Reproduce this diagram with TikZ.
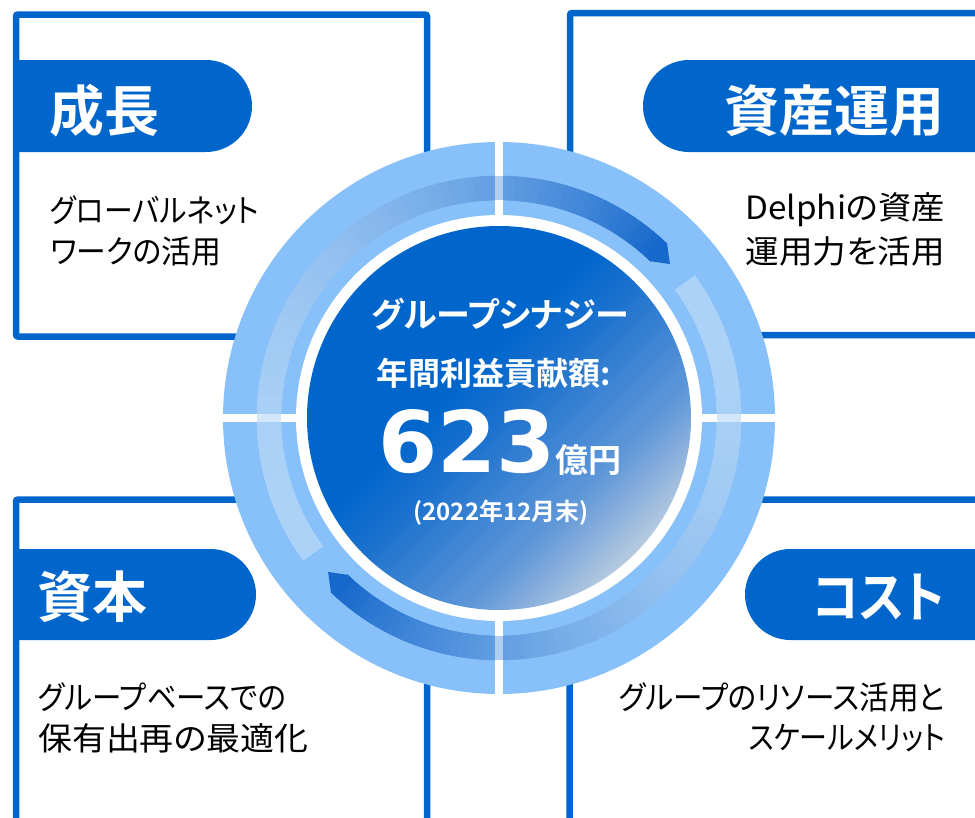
\documentclass[tikz,border=0pt]{standalone}
\usepackage{fontspec}
\usepackage{graphicx}
\newfontfamily\jp{Noto Sans CJK JP}[RawFeature={+palt},BoldFont={Noto Sans CJK JP Bold}]
\newfontfamily\dv{DejaVu Sans}[BoldFont={DejaVu Sans Bold}]
\newcommand{\hsq}[2]{\scalebox{#1}[1]{#2}}
\definecolor{mainblue}{RGB}{0,102,204}
\definecolor{ringblue}{RGB}{136,192,250}
\definecolor{bandlight}{RGB}{172,210,247}
\definecolor{banddark}{RGB}{22,104,203}
\definecolor{dkA}{RGB}{182,202,224}
\definecolor{dkB}{RGB}{97,152,216}
\definecolor{dkC}{RGB}{27,113,206}
\pgfdeclareverticalshading{diskshade}{100bp}{color(0bp)=(dkA); color(25bp)=(dkA); color(35bp)=(dkB); color(50bp)=(dkC); color(57bp)=(mainblue); color(100bp)=(mainblue)}
\tikzset{
  boxline/.style={draw=mainblue, line width=6.5pt, rounded corners=2pt},
  tabfill/.style={fill=mainblue},
  tabtext/.style={text=white, font=\jp\bfseries\fontsize{55}{60}\selectfont, inner sep=0pt},
  bodytext/.style={text=black, font=\jp\fontsize{32}{40}\selectfont, inner sep=0pt},
  centertext/.style={text=white, inner sep=0pt},
  gapline/.style={fill=white},
  gapband/.style={fill=white, opacity=0.5}
}
\begin{document}
\begin{tikzpicture}[x=1pt,y=-1pt]
\useasboundingbox (0,0) rectangle (975,817);
\clip (0,0) rectangle (975,817);
% boxes
\draw[boxline] (16,14.5) rectangle (427,336.5);
\draw[boxline] (990,13) -- (570,13) -- (570,335) -- (990,335);
\draw[boxline] (16,830) -- (16,499.5) -- (427,499.5) -- (427,830);
\draw[boxline] (990,499.5) -- (569.5,499.5) -- (569.5,830);
% tabs
\fill[tabfill] (16,60) -- (206,60) arc[start angle=-90,end angle=90,radius=46] -- (16,152) -- cycle;
\fill[tabfill] (990,60) -- (689,60) arc[start angle=-90,end angle=-270,radius=46] -- (990,152) -- cycle;
\fill[tabfill] (16,549) -- (210.5,549) arc[start angle=-90,end angle=90,radius=45.5] -- (16,640) -- cycle;
\fill[tabfill] (990,549) -- (790.5,549) arc[start angle=-90,end angle=-270,radius=45.5] -- (990,640) -- cycle;
\node[tabtext, anchor=west] (tg) at (49,111) {成長};
\node[tabtext, anchor=east] (ta) at (945,111) {資産運用};
\node[tabtext, anchor=west] (tc) at (37,597) {資本};
\node[tabtext, anchor=east] (tk) at (945,597) {\hsq{0.87}{コスト}};
% body texts
\node[bodytext, anchor=west] (g1) at (50,210) {\hsq{0.9}{グローバルネット}};
\node[bodytext, anchor=west] (g2) at (50,251) {\hsq{0.93}{ワークの活用}};
\node[bodytext, anchor=east] (a1) at (945,210) {\hsq{1.04}{Delphiの資産}};
\node[bodytext, anchor=east] (a2) at (945,251) {\hsq{1.05}{運用力を活用}};
\node[bodytext, anchor=west] (c1) at (38,697) {\hsq{0.92}{グループベースでの}};
\node[bodytext, anchor=west] (c2) at (38,738) {\hsq{1.06}{保有出再の最適化}};
\node[bodytext, anchor=east] (k1) at (945,697) {\hsq{0.925}{グループのリソース活用と}};
\node[bodytext, anchor=east] (k2) at (945,738) {\hsq{0.875}{スケールメリット}};
% ring
\coordinate (C) at (499,418);
\fill[ringblue] (C) circle[radius=276];
\foreach \s in {-216,-36} {
  \foreach \i in {0,...,84} {
    \pgfmathsetmacro{\aa}{\s+2*\i}
    \pgfmathsetmacro{\bb}{\s+2*\i+2}
    \pgfmathtruncatemacro{\pp}{100*(\i/84)*(\i/84)*(0.6+0.4*\i/84)}
    \colorlet{bandtmp}{banddark!\pp!bandlight}
    \fill[bandtmp, draw=bandtmp, line width=0.6pt, shift={(499,418)}] (\aa:218) arc[start angle=\aa, end angle=\bb, radius=218] -- (\bb:242) arc[start angle=\bb, end angle=\aa, radius=242] -- cycle;
  }
  \pgfmathsetmacro{\ee}{\s+170}
  \pgfmathsetmacro{\tipang}{\s+174}
  \fill[banddark, shift={(499,418)}] (\ee:218) -- (\tipang:230) -- (\ee:242) -- cycle;
}
% white gaps
\fill[gapline] (495,140) rectangle (503,176);
\fill[gapband] (495,176) rectangle (503,200);
\fill[gapline] (495,200) rectangle (503,219);
\fill[gapline] (495,617) rectangle (503,636);
\fill[gapband] (495,636) rectangle (503,660);
\fill[gapline] (495,660) rectangle (503,696);
\fill[gapline] (221,414) rectangle (257,422);
\fill[gapband] (257,414) rectangle (281,422);
\fill[gapline] (281,414) rectangle (300,422);
\fill[gapline] (698,414) rectangle (717,422);
\fill[gapband] (717,414) rectangle (741,422);
\fill[gapline] (741,414) rectangle (777,422);
% disk
\fill[white] (C) circle[radius=203];
\shade[shading=diskshade, shading angle=45] (C) circle[radius=192];
% center texts
\node[centertext, font=\jp\bfseries\fontsize{34}{40}\selectfont] (syn) at (500,314) {グループシナジー};
\node[centertext, font=\jp\bfseries\fontsize{32}{38}\selectfont] (ann) at (494,373) {年間利益貢献額:};
\node[centertext, anchor=base] (val) at (500,472) {{\dv\bfseries\fontsize{85}{90}\selectfont 623}{\jp\bfseries\fontsize{33}{36}\selectfont 億円}};
\node[centertext, font=\jp\bfseries\fontsize{24}{28}\selectfont] (date) at (501,513) {(2022年12月末)};
\end{tikzpicture}
\end{document}
